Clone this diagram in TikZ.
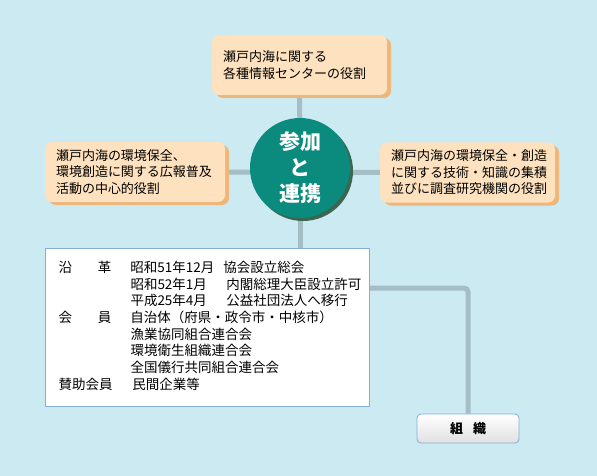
\documentclass[tikz,border=0pt]{standalone}
\usepackage{fontspec}
\setmainfont{Noto Sans CJK JP}
\usepackage{xcolor}
\usepackage{tikz}
\usetikzlibrary{shadows,backgrounds}
\definecolor{fond}{HTML}{CBEAF1}
\definecolor{bulle}{HTML}{FEE2BF}
\definecolor{ombre}{HTML}{EFB67A}
\definecolor{sarcelle}{HTML}{0B8A7E}
\definecolor{ombreverte}{HTML}{3B6650}
\definecolor{liaison}{HTML}{A5BDC4}
\definecolor{bord}{HTML}{85ADDB}

\begin{document}
\begin{tikzpicture}[x=1pt,y=-1pt]
% Styles (MODIFIABLES)
\tikzstyle{trait}=[draw=liaison,line width=5pt]
\tikzstyle{cadre}=[fill=bulle,rounded corners=7pt,align=left,inner xsep=11pt,inner ysep=0pt,minimum height=60pt,font=\fontsize{13}{16.5}\selectfont,drop shadow={shadow xshift=4pt,shadow yshift=-3pt,fill=ombre,opacity=1}]
\tikzstyle{centre}=[circle,fill=sarcelle,text=white,minimum size=100pt,inner sep=0pt,align=center,font=\bfseries\fontsize{21}{26}\selectfont,drop shadow={shadow xshift=3pt,shadow yshift=-3pt,fill=ombreverte,opacity=1}]
\tikzstyle{tableau}=[fill=white,draw=bord,line width=1pt,anchor=north west,inner xsep=13pt,inner ysep=12pt,text width=298pt,minimum height=158pt,font=\fontsize{13.5}{16.7}\selectfont]
\tikzstyle{organe}=[draw=bord,line width=0.8pt,rounded corners=4pt,top color=white,middle color=white,bottom color=black!12,minimum width=102pt,minimum height=29pt,font=\bfseries\fontsize{13}{15}\selectfont]
% Cadre de l'image
\useasboundingbox (0,0) rectangle (597,476);
% Noeuds
\node[cadre,text width=153pt] (haut) at (299.5,65) {瀬戸内海に関する\\各種情報センターの役割};
\node[cadre,text width=158pt] (gauche) at (135,172) {瀬戸内海の環境保全、\\環境創造に関する広報普及\\活動の中心的役割};
\node[cadre,text width=153pt] (droite) at (467.5,172.5) {瀬戸内海の環境保全・創造\\に関する技術・知識の集積\\並びに調査研究機関の役割};
\node[centre] (coeur) at (300,168) {参加\\と\\連携};
\node[tableau] (tableau) at (45,248) {%
\begin{tabular}{@{}p{72pt}@{}l@{}}
沿\hspace{26pt}革 & \makebox[93pt][l]{昭和51年12月}協会設立総会\\
 & \makebox[96pt][l]{昭和52年1月}内閣総理大臣設立許可\\
 & \makebox[96pt][l]{平成25年4月}公益社団法人へ移行\\
会\hspace{26pt}員 & 自治体（府県・政令市・中核市）\\
 & 漁業協同組合連合会\\
 & 環境衛生組織連合会\\
 & 全国儀行共同組合連合会\\
賛助会員 & \hspace{2pt}民間企業等
\end{tabular}};
\node[organe] (organe) at (468,428.5) {組\hspace{10pt}織};
% Liaisons
\begin{scope}[on background layer]
\fill[fond] (0,0) rectangle (597,476);
\draw[trait] (haut) -- (coeur);
\draw[trait] (coeur) -- (coeur |- tableau.north);
\draw[trait] (gauche) -- (droite);
\draw[trait,rounded corners=4pt] ([yshift=-40pt]tableau.north east) -| (organe.north);
\end{scope}
\end{tikzpicture}
\end{document}
